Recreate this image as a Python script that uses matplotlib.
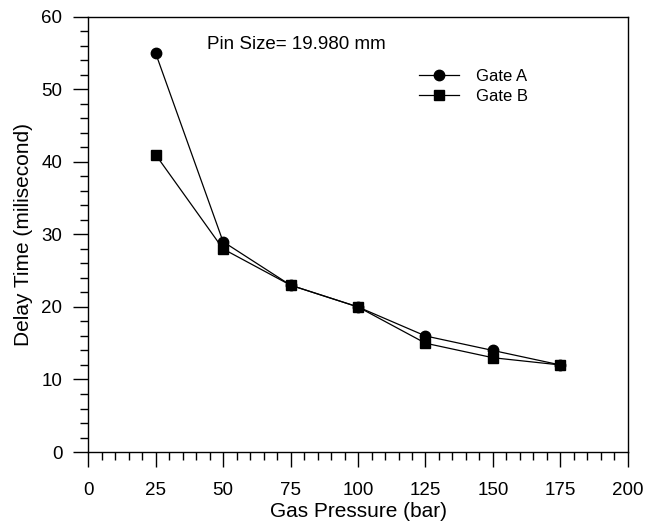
import matplotlib
matplotlib.use("Agg")
import matplotlib.pyplot as plt
from matplotlib.ticker import MultipleLocator

plt.rcParams["font.family"] = ["Liberation Sans", "DejaVu Sans"]

pressure = [25, 50, 75, 100, 125, 150, 175]
gate_a = [55, 29, 23, 20, 16, 14, 12]
gate_b = [41, 28, 23, 20, 15, 13, 12]

fig = plt.figure(figsize=(6.48, 5.25), dpi=100)
ax = fig.add_axes([0.136, 0.139, 0.833, 0.829])

ax.plot(pressure, gate_a, color="black", lw=0.9, marker="o", ms=7.5, label="Gate A")
ax.plot(pressure, gate_b, color="black", lw=0.9, marker="s", ms=7.5, label="Gate B")

ax.set_xlim(0, 200)
ax.set_ylim(0, 60)
ax.xaxis.set_major_locator(MultipleLocator(25))
ax.xaxis.set_minor_locator(MultipleLocator(5))
ax.yaxis.set_major_locator(MultipleLocator(10))
ax.yaxis.set_minor_locator(MultipleLocator(2))
ax.tick_params(which="major", direction="out", length=10.5, width=1, labelsize=13.5)
ax.tick_params(axis="x", which="major", pad=11)
ax.tick_params(axis="y", which="major", pad=8)
ax.tick_params(which="minor", direction="out", length=6, width=1)
for s in ax.spines.values():
    s.set_linewidth(1)

ax.set_xlabel("Gas Pressure (bar)", fontsize=15, labelpad=2)
ax.set_ylabel("Delay Time (milisecond)", fontsize=15, labelpad=6)

ax.text(44, 56.2, "Pin Size= 19.980 mm", fontsize=13.5, va="center")

ax.legend(loc="upper left", bbox_to_anchor=(0.585, 0.915), frameon=False, fontsize=12,
          handlelength=2.4, handletextpad=1.0, labelspacing=0.3)

fig.savefig("out.png", dpi=100)
